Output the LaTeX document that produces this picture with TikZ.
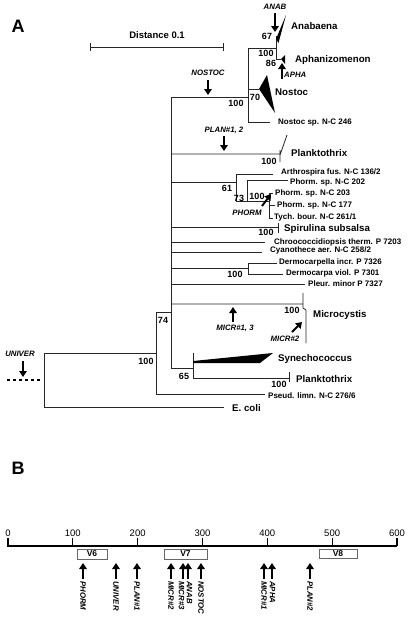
\documentclass[tikz,border=0pt]{standalone}
\usepackage{fontspec}
\setmainfont{Liberation Sans}
\usetikzlibrary{arrows.meta}
\colorlet{treegray}{black!85}
\colorlet{mygray}{black!60}

\tikzset{
	branch/.style={treegray, line width=0.8pt},
	probe/.style={black, line width=1.9pt, -{Triangle[length=6pt,width=7.5pt]}},
	taxon/.style={anchor=west, inner sep=0pt, font=\bfseries\fontsize{9.7}{10}\selectfont},
	strain/.style={anchor=west, inner sep=0pt, font=\bfseries\fontsize{8}{8}\selectfont},
	boot/.style={inner sep=0pt, font=\bfseries\fontsize{9}{10}\selectfont},
	probelabel/.style={inner sep=0pt, font=\bfseries\itshape\fontsize{7.8}{8}\selectfont},
	region/.style={draw=mygray, line width=1pt, fill=white},
}

\begin{document}
\begin{tikzpicture}[x=1pt,y=-1pt]
		\useasboundingbox (0,0) rectangle (409,621);
		
		% panel letters
		\node[font=\bfseries\fontsize{18}{18}\selectfont] (pA) at (18,26) {A};
		\node[font=\bfseries\fontsize{18}{18}\selectfont] (pB) at (18,468) {B};
		
		% distance bar
		\node[font=\bfseries\fontsize{9.5}{10}\selectfont] (dist) at (157,35) {Distance 0.1};
		\draw[branch] (90,47) -- (223,47) (90,43) -- (90,51) (223,43) -- (223,51);
		
		% root and outgroups
		\draw[branch, dashed, line width=1.2pt, black] (7,380) -- (42,380);
		\draw[branch] (44,353) -- (44,407) (44,353) -- (156,353) (44,407) -- (224,407);
		\draw[branch] (156,312) -- (156,394) -- (265,394) (156,312) -- (171,312);
		\draw[branch] (171,97) -- (171,368);
		
		% nostoc clade
		\draw[branch] (171,97) -- (248,97) (248,48) -- (248,122) -- (270,122);
		\draw[branch] (248,48) -- (276,48) (276,36) -- (276,59) -- (281,59) (248,89) -- (259,89);
		\fill[black] (276,39) -- (286,15) -- (278.5,43) -- cycle;		% anabaena
		\fill[black] (281,59) -- (285,55) -- (285,64) -- cycle;		% aphanizomenon
		\fill[black] (259,89) -- (267,75) -- (275,113) -- cycle;		% nostoc
		
		% planktothrix
		\draw[branch] (171,154) -- (280,154) (280,150) -- (280,162) (280,155) -- (287,135);
		
		% arthrospira and phormidium
		\draw[branch] (171,182) -- (236,182) (236,174) -- (236,201) -- (269,201) (236,174) -- (273,174);
		\draw[branch] (247,180) -- (247,201) (247,180) -- (288,180);
		\draw[branch] (269,193) -- (269,218) (269,193) -- (273,193) (269,205) -- (275,205) (269,218) -- (273,218);
		
		% spirulina, single strains
		\draw[branch] (171,227) -- (278,227) (278,223) -- (278,233);
		\draw[branch] (171,242) -- (265,242) (171,252) -- (262,252);
		\draw[branch] (171,268) -- (248,268) (248,263) -- (248,274) (248,263) -- (277,263) (248,274) -- (283,274);
		\draw[branch] (171,284) -- (305,284);
		
		% microcystis
		\draw[branch] (171,304) -- (303,304) (303,293) -- (303,308) -- (306,310) -- (306,343);
		
		% synechococcus and planktothrix
		\draw[branch] (171,368) -- (193,368) (193,353) -- (193,378) -- (289,378) (289,372) -- (289,382);
		\fill[black] (193,361) -- (273,353) -- (260,363) -- (193,363) -- cycle;
		
		% bootstrap values
		\node[boot] (b67) at (267,36) {67};
		\node[boot] (bapha) at (266,53) {100};
		\node[boot] (b86) at (271,63) {86};
		\node[boot] (bnost) at (236,103) {100};
		\node[boot] (b70) at (255,97) {70};
		\node[boot] (bplan) at (269,161) {100};
		\node[boot] (b61) at (227,188) {61};
		\node[boot] (b73) at (239,198) {73};
		\node[boot] (bphorm) at (257,196) {100};
		\node[boot] (bspir) at (266,232) {100};
		\node[boot] (bderm) at (235,274) {100};
		\node[boot] (b74) at (163,320) {74};
		\node[boot] (broot) at (146,361) {100};
		\node[boot] (b65) at (184,376) {65};
		\node[boot] (bmicr) at (292,310) {100};
		\node[boot] (bplan2) at (279,384) {100};
		
		% taxa
		\node[taxon] (anab) at (291,26) {Anabaena};
		\node[taxon] (apha) at (295,60) {Aphanizomenon};
		\node[taxon] (nost) at (275,92) {Nostoc};
		\node[strain] (nost246) at (278,123) {Nostoc sp. N-C 246};
		\node[taxon] (plan) at (291,153) {Planktothrix};
		\node[strain] (arth) at (281,172) {Arthrospira fus. N-C 136/2};
		\node[strain] (ph202) at (290,182) {Phorm. sp. N-C 202};
		\node[strain] (ph203) at (275,193) {Phorm. sp. N-C 203};
		\node[strain] (ph177) at (277,205) {Phorm. sp. N-C 177};
		\node[strain] (tych) at (274,217) {Tych. bour. N-C 261/1};
		\node[taxon] (spir) at (284,229) {Spirulina subsalsa};
		\node[strain] (chroo) at (274,242) {Chroococcidiopsis therm. P 7203};
		\node[strain] (cyan) at (270,250) {Cyanothece aer. N-C 258/2};
		\node[strain] (dermi) at (279,262) {Dermocarpella incr. P 7326};
		\node[strain] (dermv) at (286,273) {Dermocarpa viol. P 7301};
		\node[strain] (pleur) at (308,284) {Pleur. minor P 7327};
		\node[taxon] (micr) at (313,315) {Microcystis};
		\node[taxon] (syne) at (278,359) {Synechococcus};
		\node[taxon] (plan2) at (296,379) {Planktothrix};
		\node[strain] (pseud) at (268,396) {Pseud. limn. N-C 276/6};
		\node[taxon] (ecoli) at (232,408) {E. coli};
		
		% probe sites in the tree
		\node[probelabel] (lanab) at (275,7) {ANAB};
		\draw[probe] (275,13) -- (275,32);
		\node[probelabel, anchor=west] (lapha) at (284,75) {APHA};
		\draw[probe] (282,79) -- (282,63);
		\node[probelabel] (lnost) at (208,73) {NOSTOC};
		\draw[probe] (208,80) -- (208,95);
		\node[probelabel] (lplan) at (224,130) {PLAN\#1, 2};
		\draw[probe] (224,136) -- (224,151);
		\node[probelabel] (lphorm) at (247,213) {PHORM};
		\draw[probe] (262,206) -- (271,194);
		\node[probelabel] (lmicr) at (235,328) {MICR\#1, 3};
		\draw[probe] (233,322) -- (233,307);
		\node[probelabel] (lmicrb) at (285,339) {MICR\#2};
		\draw[probe] (292,332) -- (302,322);
		\node[probelabel] (luniv) at (20,354) {UNIVER};
		\draw[probe] (23,361) -- (23,377);
		
		% sequence axis
		\draw[black, line width=2.8pt] (7,546) -- (397,546);
		\foreach \v in {0,100,...,600}
			\draw[black, line width=1.2pt] ({8+0.6483*\v},546) -- ++(0,-8) node[above=1pt, inner sep=0pt, font=\fontsize{9.5}{10}\selectfont] (t\v) {\v};
		
		% variable regions
		\draw[region] (77,549) rectangle (107,559) node[midway, font=\bfseries\fontsize{8.5}{9}\selectfont] (v6) {V6};
		\draw[region] (164,549) rectangle (207,559) node[midway, font=\bfseries\fontsize{8.5}{9}\selectfont] (v7) {V7};
		\draw[region] (319,549) rectangle (357,558) node[midway, font=\bfseries\fontsize{8.5}{9}\selectfont] (v8) {V8};
		
		% probe sites on the sequence
		\foreach \px/\lx/\lab [count=\i] in {83/83/PHORM, 116/116/UNIVER, 137/137/PLAN\#1, 171/171/MICR\#2, 183/181.5/MICR\#3, 188/189.5/ANAB, 201/201/NOSTOC, 264/264/MICR\#1, 272/272.5/APHA, 310/310/PLAN\#2}
		{
			\draw[probe] (\px,579) -- (\px,563);
			\node[probelabel, rotate=-90, anchor=west] (s\i) at (\lx,581) {\lab};
		}
	\end{tikzpicture}
\end{document}
